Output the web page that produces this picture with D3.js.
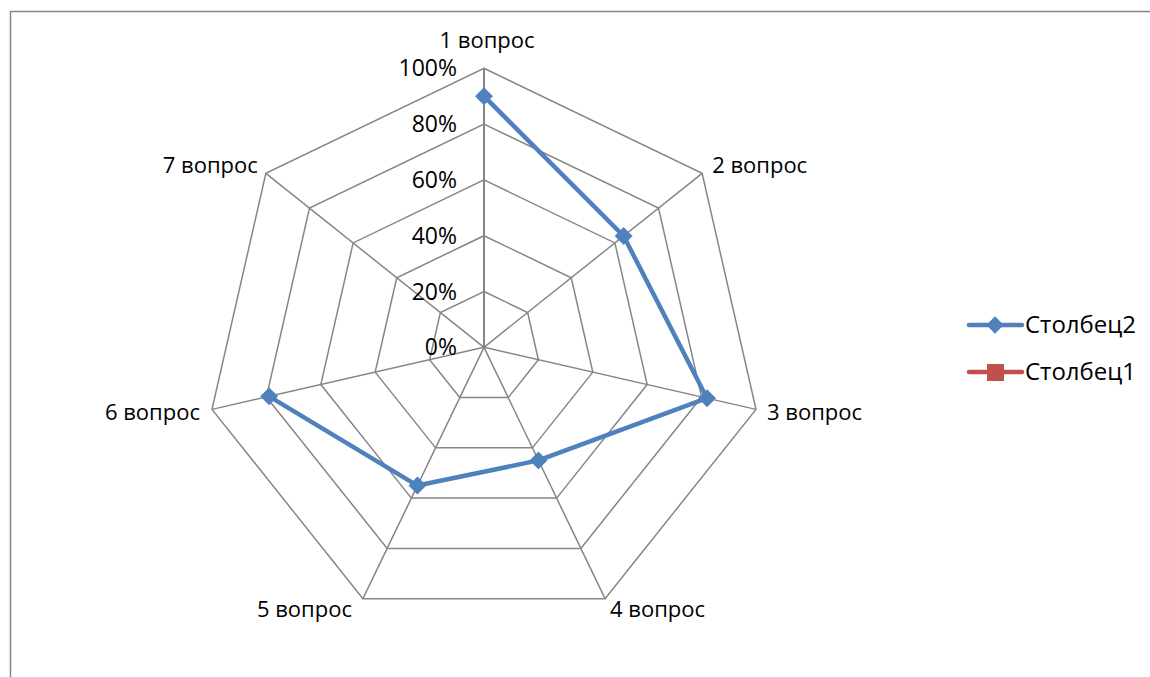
<!DOCTYPE html>
<html><head><meta charset="utf-8">
<script src="https://cdn.jsdelivr.net/npm/d3@7"></script>
<style>body{margin:0;background:#fff}svg{display:block}text{font-family:"Open Sans","Liberation Sans",sans-serif;fill:#000}</style>
</head><body>
<svg id="c" width="1150" height="677"></svg>
<script>
const categories = ["1 вопрос","2 вопрос","3 вопрос","4 вопрос","5 вопрос","6 вопрос","7 вопрос"];
const series2 = [0.90, 0.64, 0.82, 0.45, 0.55, 0.79, null];
const series1 = [null, null, null, null, null, null, null];
const ticks = [0, 0.2, 0.4, 0.6, 0.8, 1.0];
const tickLabels = ["0%","20%","40%","60%","80%","100%"];
const seriesNames = ["Столбец2","Столбец1"];
const colors = ["#4F81BD","#C0504D"];
const FS = 22;

const svg = d3.select("#c");
svg.append("path").attr("d","M10.5,677 L10.5,11.5 L1150,11.5").attr("fill","none").attr("stroke","#868686").attr("stroke-width",1.5);

const cx = 484, cy = 347.3, R = 279;
const r = d3.scaleLinear().domain([0,1]).range([0,R]);
const ang = d3.scaleLinear().domain([0, categories.length]).range([0, 2*Math.PI]);
const pt = (i, v) => [cx + r(v)*Math.sin(ang(i)), cy - r(v)*Math.cos(ang(i))];

const g = svg.append("g");
ticks.slice(1).forEach(t => {
  const pts = categories.map((c,i) => pt(i,t));
  g.append("path").attr("d", d3.line()(pts) + "Z").attr("fill","none").attr("stroke","#868686").attr("stroke-width",1.5);
});
categories.forEach((c,i) => {
  const [x,y] = pt(i,1);
  g.append("line").attr("x1",cx).attr("y1",cy).attr("x2",x).attr("y2",y).attr("stroke","#868686").attr("stroke-width", i===0?2:1.5);
});
ticks.forEach((t,k) => {
  g.append("text").attr("x", cx-27).attr("y", cy - r(t) + 8).attr("text-anchor","end").attr("font-size",23).text(tickLabels[k]);
});
const labelPos = [
  {dx:3, dy:-20, a:"middle"},
  {dx:10, dy:0, a:"start"},
  {dx:11, dy:11, a:"start"},
  {dx:5, dy:18, a:"start"},
  {dx:-11, dy:18, a:"end"},
  {dx:-12, dy:11, a:"end"},
  {dx:-8, dy:0, a:"end"}
];
categories.forEach((c,i) => {
  const [x,y] = pt(i,1);
  const p = labelPos[i];
  g.append("text").attr("x", x+p.dx).attr("y", y+p.dy).attr("text-anchor",p.a).attr("font-size",FS).text(c);
});
const line = d3.line().defined(d => d.v != null).x(d => pt(d.i,d.v)[0]).y(d => pt(d.i,d.v)[1]);
const data2 = series2.map((v,i)=>({i,v}));
g.append("path").attr("d", line(data2)).attr("fill","none").attr("stroke",colors[0]).attr("stroke-width",4.5).attr("stroke-linejoin","round");
data2.filter(d=>d.v!=null).forEach(d => {
  const [x,y] = pt(d.i,d.v);
  g.append("path").attr("d", d3.symbol(d3.symbolSquare, 160)()).attr("transform",`translate(${x},${y}) rotate(45)`).attr("fill",colors[0]);
});
const data1 = series1.map((v,i)=>({i,v}));
g.append("path").attr("d", line(data1) || "").attr("fill","none").attr("stroke",colors[1]).attr("stroke-width",4.5);

const lg = svg.append("g");
seriesNames.forEach((n,k) => {
  const y = 325 + k*47;
  lg.append("line").attr("x1",969).attr("x2",1022).attr("y1",y).attr("y2",y).attr("stroke",colors[k]).attr("stroke-width",4.5).attr("stroke-linecap","round");
  if (k===0) lg.append("path").attr("d", d3.symbol(d3.symbolSquare,150)()).attr("transform",`translate(995,${y}) rotate(45)`).attr("fill",colors[k]);
  else lg.append("rect").attr("x",987).attr("y",y-8).attr("width",17).attr("height",17).attr("fill",colors[k]);
  lg.append("text").attr("x",1025).attr("y",y+8).attr("font-size",24).text(n);
});
</script>
</body></html>
